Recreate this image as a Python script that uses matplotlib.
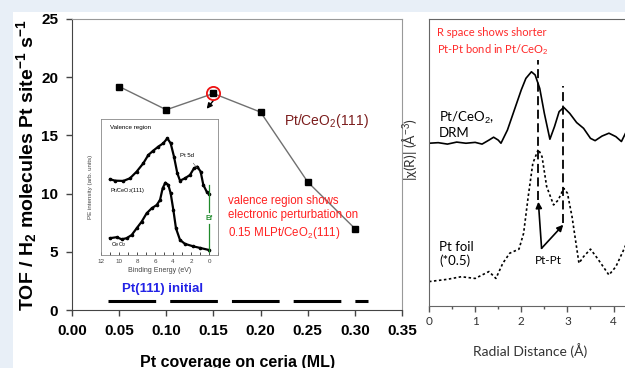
import matplotlib
matplotlib.use("Agg")
import matplotlib.pyplot as plt
from matplotlib.patches import Rectangle
from matplotlib.ticker import MultipleLocator, FormatStrFormatter

plt.rcParams["mathtext.fontset"] = "custom"
plt.rcParams["mathtext.rm"] = "Liberation Sans"
plt.rcParams["mathtext.bf"] = "Liberation Sans:bold"
plt.rcParams["mathtext.it"] = "Liberation Sans:italic"

SANS = "Liberation Sans"
HUMAN = "Lato"

# ---- left panel: TOF vs Pt coverage ---------------------------------------
coverage = [0.05, 0.10, 0.15, 0.20, 0.25, 0.30]
tof = [19.2, 17.2, 18.6, 17.0, 11.0, 7.0]
highlight = 2  # 0.15 ML point circled
pt111_cov = [0.038, 0.3136]
pt111_tof = [0.77, 0.77]

# ---- inset: valence band photoemission --------------------------------------
be_pt = [11.0, 10.44, 9.52, 8.78, 8.04, 7.3, 6.74, 6.19, 5.63, 5.08, 4.63,
         4.26, 3.89, 3.52, 3.22, 2.67, 2.11, 1.67, 1.3, 0.93, 0.63, 0.26, 0.0]
pe_pt = [55.9, 54.9, 54.7, 56.6, 61.4, 67.4, 73.4, 76.5, 79.4, 81.8, 85.4,
         81.8, 72.2, 60.2, 54.9, 56.6, 59.0, 63.8, 65.0, 61.4, 51.8, 47.0, 45.3]
be_ce = [11.0, 10.26, 9.7, 9.15, 8.59, 8.04, 7.48, 6.93, 6.37, 5.81, 5.44,
         5.15, 4.85, 4.52, 4.26, 3.96, 3.67, 3.22, 2.67, 1.74, 1.0, 0.0]
pe_ce = [13.5, 14.2, 12.7, 13.5, 15.8, 20.6, 25.4, 31.4, 35.0, 37.4, 41.0,
         49.4, 53.5, 51.8, 45.8, 33.8, 20.6, 12.2, 9.4, 7.6, 6.5, 5.0]
ef_lower = [3.8, 23.7]
ef_upper = [32.4, 51.8]

# ---- right panel: EXAFS R space ---------------------------------------------
r_drm = [0.0, 0.2, 0.4, 0.6, 0.8, 1.0, 1.15, 1.3, 1.4, 1.5, 1.56, 1.7, 1.85,
         2.0, 2.1, 2.22, 2.3, 2.4, 2.5, 2.62, 2.72, 2.82, 2.92, 3.05, 3.2,
         3.35, 3.5, 3.6, 3.75, 3.9, 4.05, 4.17, 4.3]
chi_drm = [5.67, 5.69, 5.64, 5.71, 5.67, 5.70, 5.64, 5.78, 5.88, 5.78, 5.67,
           6.13, 6.83, 7.53, 7.93, 8.16, 8.05, 7.58, 6.71, 5.81, 6.25, 6.77,
           6.92, 6.71, 6.39, 6.19, 5.84, 5.76, 5.92, 6.02, 5.90, 5.73, 6.15]
r_foil = [0.0, 0.4, 0.7, 1.0, 1.3, 1.45, 1.6, 1.75, 1.95, 2.05, 2.15, 2.25,
          2.37, 2.45, 2.55, 2.7, 2.8, 2.92, 3.0, 3.1, 3.25, 3.35, 3.5, 3.65,
          3.9, 4.05, 4.2, 4.3]
chi_foil = [0.85, 0.93, 1.02, 0.96, 1.20, 0.96, 1.49, 1.84, 1.98, 2.53, 3.81,
            4.97, 5.46, 5.20, 4.16, 3.52, 3.69, 4.10, 3.93, 3.11, 1.49, 1.72,
            1.98, 1.66, 1.08, 1.37, 1.89, 2.25]
bond_r = [2.37, 2.91]
bond_top = [8.57, 7.67]
bond_bottom = [3.69, 2.89]

fig = plt.figure(figsize=(6.25, 3.68), dpi=100)
fig.patch.set_facecolor("#e8eff7")
fig.patches.append(Rectangle((13 / 625, 0), 1, 356 / 368, transform=fig.transFigure,
                             facecolor="white", edgecolor="none", zorder=-10))

# left panel
ax = fig.add_axes([0.1152, 0.1576, 0.528, 0.7908])
ax.patch.set_alpha(0)
ax.plot(coverage, tof, color="#707070", lw=1, marker="s", ms=4.5,
        mfc="black", mec="black", zorder=3)
ax.plot(coverage[highlight], tof[highlight], marker="o", ms=9.5, mfc="none",
        mec="#ee1111", mew=1.3, zorder=4)
ax.plot(pt111_cov, pt111_tof, color="black", lw=2.2, ls=(0, (15.6, 4.6)),
        solid_capstyle="butt")
ax.annotate("", xy=(0.141, 17.1), xytext=(0.152, 18.2),
            arrowprops=dict(arrowstyle="-|>", color="black", lw=1, mutation_scale=8))
ax.set_xlim(0, 0.35)
ax.set_ylim(0, 25)
ax.xaxis.set_major_locator(MultipleLocator(0.05))
ax.xaxis.set_major_formatter(FormatStrFormatter("%.2f"))
ax.yaxis.set_major_locator(MultipleLocator(5))
ax.tick_params(direction="out", length=4, width=1, color="#444", pad=6)
for lab in ax.get_xticklabels() + ax.get_yticklabels():
    lab.set_family(SANS)
    lab.set_weight("bold")
    lab.set_fontsize(11)
for s in ("left", "bottom"):
    ax.spines[s].set_color("#444")
for s in ("top", "right"):
    ax.spines[s].set_color("#999")
ax.set_ylabel(r"TOF / H$_\mathbf{2}$ molecules Pt site$^\mathbf{-1}$ s$^\mathbf{-1}$",
              family=SANS, weight="bold", fontsize=14)
ax.yaxis.set_label_coords(-0.10, 0.5)
ax.set_xlabel("Pt coverage on ceria (ML)", family=SANS, weight="bold", fontsize=11.5)
ax.xaxis.set_label_coords(0.5015, -0.153)
ax.text(0.2249, 16.2, r"Pt/CeO$_2$(111)", family=SANS, fontsize=10,
        color="#7b1c1c", va="center")
ax.text(0.096, 1.8, "Pt(111) initial", family=SANS, weight="bold", fontsize=9.5,
        color="#2323e6", ha="center", va="center")
ax.text(0.165, 9.9, "valence region shows\nelectronic perturbation on\n"
        r"0.15 MLPt/CeO$_2$(111)", family=SANS, fontsize=8.3, color="#ff2020",
        va="top", linespacing=1.3)

# inset
axi = fig.add_axes([0.1616, 0.3071, 0.1872, 0.3696])
axi.plot(be_pt, pe_pt, color="black", lw=1.6, marker="o", ms=1.6)
axi.plot(be_ce, pe_ce, color="black", lw=1.6, marker="o", ms=1.6)
axi.plot([0, 0], ef_lower, color="#1f8a2a", lw=0.9)
axi.plot([0, 0], ef_upper, color="#1f8a2a", lw=0.9)
axi.text(0, 28, "Ef", color="#1f8a2a", fontsize=5, weight="bold",
         ha="center", va="center", family=SANS)
axi.set_xlim(12, -1)
axi.set_ylim(1.4, 99.3)
axi.set_xticks([12, 10, 8, 6, 4, 2, 0])
axi.xaxis.set_minor_locator(MultipleLocator(1))
axi.set_yticks([])
axi.tick_params(axis="x", which="both", direction="in", length=2, width=0.5,
                labelsize=4.5, pad=3, labelcolor="#444")
for lab in axi.get_xticklabels():
    lab.set_family(SANS)
for s in axi.spines.values():
    s.set_color("#888")
    s.set_linewidth(0.6)
axi.set_xlabel("Binding Energy (eV)", family=SANS, fontsize=5, color="#444", labelpad=2)
axi.set_ylabel("PE intensity (arb. units)", family=SANS, fontsize=4.5, color="#444",
               labelpad=6)
axi.text(11, 93.5, "Valence region", family=SANS, fontsize=4.5, va="center")
axi.text(11, 47.5, r"Pt/CeO$_2$(111)", family=SANS, fontsize=4, va="center")
axi.text(10.9, 8.6, r"CeO$_2$", family=SANS, fontsize=4, va="center")
axi.annotate("Pt 5d", xy=(1.33, 64), xytext=(2.4, 72.9), family=SANS, fontsize=4.3,
             ha="center", va="center",
             arrowprops=dict(arrowstyle="-", color="#555", lw=0.4, shrinkA=2, shrinkB=0))

# right panel
ax2 = fig.add_axes([0.6864, 0.1685, 0.33, 0.78])
ax2.patch.set_alpha(0)
ax2.plot(r_drm, chi_drm, color="black", lw=1.2)
ax2.plot(r_foil, chi_foil, color="black", lw=1.2, ls=(0, (1.5, 1.5)))
for r, top, bot in zip(bond_r, bond_top, bond_bottom):
    ax2.plot([r, r], [bot, top], color="black", lw=1.3, ls=(0, (5, 2.5)))
for r, bot in zip(bond_r, bond_bottom):
    ax2.annotate("", xy=(r, bot - 0.06), xytext=(2.44, 2.01),
                 arrowprops=dict(arrowstyle="-|>", color="black", lw=1.2,
                                 mutation_scale=9, shrinkA=0, shrinkB=0))
ax2.text(2.59, 1.60, "Pt-Pt", family=HUMAN, fontsize=8.5, ha="center", va="center")
ax2.text(0.0485, 0.633, "Pt/CeO$_2$,\nDRM", transform=ax2.transAxes, family=HUMAN,
         fontsize=9.5, va="center", linespacing=1.1)
ax2.text(0.0485, 0.181, "Pt foil\n(*0.5)", transform=ax2.transAxes, family=HUMAN,
         fontsize=9.5, va="center", linespacing=1.1)
ax2.text(0.039, 0.972, "R space shows shorter\nPt-Pt bond in Pt/CeO$_2$",
         transform=ax2.transAxes, family=HUMAN, fontsize=8, color="#ff2a2a",
         va="top", linespacing=1.35)
ax2.set_xlim(0, 4.47)
ax2.set_ylim(0, 10)
ax2.set_yticks([])
ax2.xaxis.set_major_locator(MultipleLocator(1))
ax2.xaxis.set_minor_locator(MultipleLocator(0.5))
ax2.tick_params(axis="x", which="major", direction="out", length=4, width=1,
                color="#555", labelsize=8.5, labelcolor="#333", pad=3)
ax2.tick_params(axis="x", which="minor", direction="out", length=2.5, width=1,
                color="#555")
for lab in ax2.get_xticklabels():
    lab.set_family(HUMAN)
for s in ax2.spines.values():
    s.set_color("#666")
ax2.set_xlabel("Radial Distance (Å)", family=HUMAN, fontsize=10, color="#333")
ax2.xaxis.set_label_coords(0.49, -0.13)
ax2.set_ylabel(r"|χ(R)| (Å$^{-3}$)", family=HUMAN, fontsize=10, color="#333")
ax2.yaxis.set_label_coords(-0.039, 0.544)

fig.savefig("out.png", dpi=100, facecolor=fig.get_facecolor())
